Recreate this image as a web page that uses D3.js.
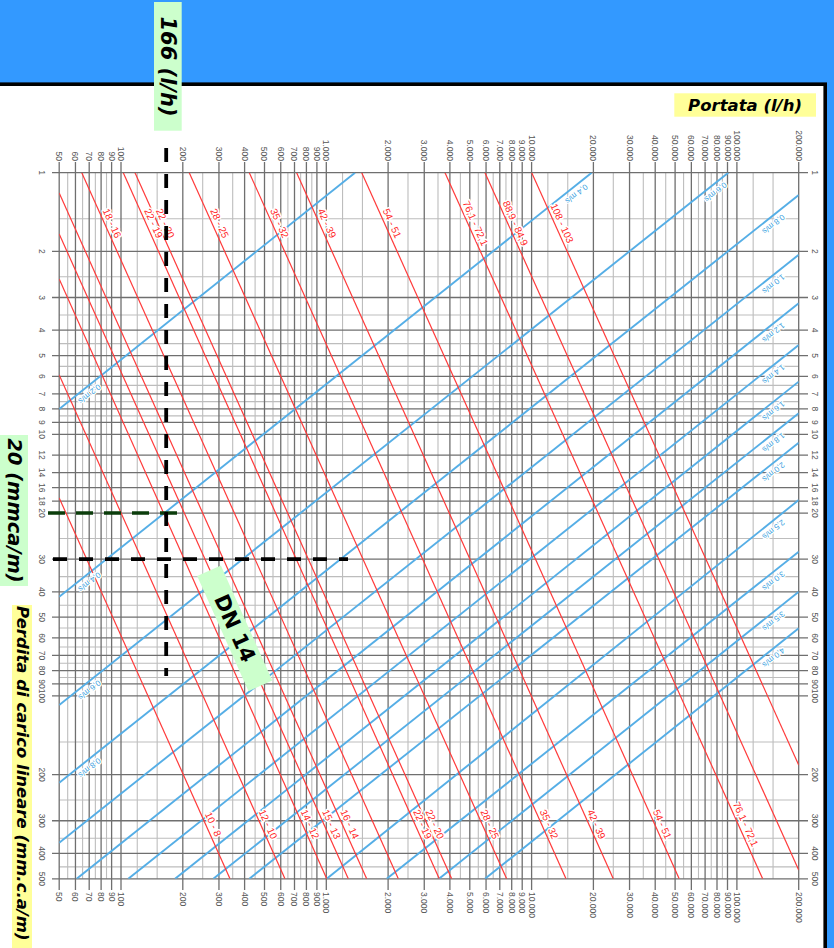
<!DOCTYPE html>
<html><head><meta charset="utf-8">
<script src="https://cdn.jsdelivr.net/npm/d3@7/dist/d3.min.js"></script>
<style>
html,body{margin:0;padding:0;background:#3399ff;overflow:hidden;}
svg{display:block;}
</style></head><body>
<svg id="c" width="834" height="948"></svg>
<script>
// ---------- DATA ----------
// Flow rate (Portata, l/h) – labelled gridlines and half-step gridlines
const flowMajor = [50,60,70,80,90,100,200,300,400,500,600,700,800,900,1000,2000,3000,4000,5000,6000,7000,8000,9000,10000,20000,30000,40000,50000,60000,70000,80000,90000,100000,200000];
const flowMinor = [55,65,75,85,120,150,250,350,450,550,650,750,850,1200,1500,2500,3500,4500,5500,6500,7500,8500,12000,15000,25000,35000,45000,55000,65000,75000,85000,120000,150000];
// Pressure loss (Perdita di carico, mm.c.a/m)
const lossMajor = [1,2,3,4,5,6,7,8,9,10,12,14,16,18,20,30,40,50,60,70,80,90,100,200,300,400,500];
const lossMinor = [1.5,2.5,3.5,4.5,5.5,6.5,7.5,8.5,25,35,45,55,65,75,85,150,250,350,450];

// Pipe lines (red): outer - inner diameter, start/end points
const pipeNames  = ["10 - 8","12 - 10","14 - 12","15 - 13","16 - 14","18 - 16","22 - 19","22 - 20","28 - 25","35 - 32","42 - 39","54 - 51","76,1 - 72,1","88,9 - 84,9","108 - 103"];
const pipeStartQ = [50,50,50,50,50,64.4,102.6,117,215,421.7,717,1488,3786,5929,10012];
const pipeStartJ = [17.5,5.93,2.55,1.715,1.196,1,1,1,1,1,1,1,1,1,1];
const pipeEndQ   = [339.6,629,1005,1280,1573,2243,3551,4081,7560,14710,25000,52360,133500,200000,200000];
const pipeEndJ   = [500,500,500,500,500,500,500,500,500,500,500,500,500,463,183.7];
const pipeTopLabel    = [0,0,0,0,0,1,1,1,1,1,1,1,1,1,1];
const pipeBottomLabel = [1,1,1,1,1,0,1,1,1,1,1,1,1,0,0];

// Velocity lines (blue)
const velNames  = ["0,2 m/s","0,4 m/s","0,6 m/s","0,8 m/s","1,0 m/s","1,2 m/s","1,4 m/s","1,6 m/s","1,8 m/s","2,0 m/s","2,5 m/s","3,0 m/s","3,5 m/s","4,0 m/s"];
const velStartQ = [50,50,50,50,50,60.8,108.5,183.3,281.6,421.7,1004,1969,3539,5930];
const velStartJ = [8.0,41.8,108.3,214.7,364,500,500,500,500,500,500,500,500,500];
const velEndQ   = [1380,19620,90800,200000,200000,200000,200000,200000,200000,200000,200000,200000,200000,200000];
const velEndJ   = [1,1,1,1.217,2.06,3.157,4.556,6.29,8.31,10.77,17.83,28.1,40.0,55.1];
const velLeftLabel  = [1,1,1,1,0,0,0,0,0,0,0,0,0,0];
const velRightLabel = [0,1,1,1,1,1,1,1,1,1,1,1,1,1];

// Worked example
const exampleFlow = 166;   // l/h
const exampleLoss = 20;    // mm.c.a/m
const exampleLoss2 = 30;   // mm.c.a/m

// ---------- DRAW ----------
const svg = d3.select("#c");
svg.append("rect").attr("x",0).attr("y",0).attr("width",834).attr("height",948).attr("fill","#3399ff");
svg.append("rect").attr("x",-10).attr("y",84.2).attr("width",835.2).attr("height",900)
  .attr("fill","#fff").attr("stroke","#000").attr("stroke-width",3.6);

const x = d3.scaleLog().domain([50,200000]).range([59.2,798.7]);
const y = d3.scaleLog().domain([1,500]).range([172.7,878.8]);
const loc = d3.formatLocale({decimal:",",thousands:".",grouping:[3],currency:["",""]});
const fmt = loc.format(",d");
const fmtY = v => String(v);

const grid = svg.append("g");
// minor grid
grid.selectAll(".vmin").data(flowMinor).join("line")
  .attr("x1",d=>x(d)).attr("x2",d=>x(d)).attr("y1",y(1)).attr("y2",y(500))
  .attr("stroke","#bdbdbd").attr("stroke-width",1.1);
grid.selectAll(".hmin").data(lossMinor).join("line")
  .attr("x1",x(50)).attr("x2",x(200000)).attr("y1",d=>y(d)).attr("y2",d=>y(d))
  .attr("stroke","#bdbdbd").attr("stroke-width",1.1);
// major grid
grid.selectAll(".vmaj").data(flowMajor).join("line")
  .attr("x1",d=>x(d)).attr("x2",d=>x(d)).attr("y1",162).attr("y2",890)
  .attr("stroke","#6f6f6f").attr("stroke-width",1.3);
grid.selectAll(".hmaj").data(lossMajor).join("line")
  .attr("x1",52).attr("x2",808).attr("y1",d=>y(d)).attr("y2",d=>y(d))
  .attr("stroke","#6f6f6f").attr("stroke-width",1.3);

// tick labels
const tickFont = "Liberation Sans, Arial, sans-serif";
const tl = svg.append("g").attr("font-family",tickFont).attr("font-size",8.5).attr("fill","#555");
tl.selectAll(".tt").data(flowMajor).join("text")
  .attr("transform",d=>`translate(${x(d)},161) rotate(90)`)
  .attr("text-anchor","end").attr("dominant-baseline","central").text(fmt);
tl.selectAll(".tb").data(flowMajor).join("text")
  .attr("transform",d=>`translate(${x(d)},892) rotate(90)`)
  .attr("text-anchor","start").attr("dominant-baseline","central").text(fmt);
tl.selectAll(".yl").data(lossMajor).join("text")
  .attr("transform",d=>`translate(42,${y(d)}) rotate(90)`)
  .attr("text-anchor","middle").attr("dominant-baseline","central").text(fmtY);
tl.selectAll(".yr").data(lossMajor).join("text")
  .attr("transform",d=>`translate(815,${y(d)}) rotate(90)`)
  .attr("text-anchor","middle").attr("dominant-baseline","central").text(fmtY);

// clip for curves
svg.append("clipPath").attr("id","pc").append("rect")
  .attr("x",x(50)).attr("y",y(1)).attr("width",x(200000)-x(50)).attr("height",y(500)-y(1));

// velocity lines
const vel = velNames.map((n,i)=>({n,i,x1:x(velStartQ[i]),y1:y(velStartJ[i]),x2:x(velEndQ[i]),y2:y(velEndJ[i])}));
const blue = "#55aee6";
svg.append("g").attr("clip-path","url(#pc)").selectAll("line").data(vel).join("line")
  .attr("x1",d=>d.x1).attr("y1",d=>d.y1).attr("x2",d=>d.x2).attr("y2",d=>d.y2)
  .attr("stroke",blue).attr("stroke-width",1.9);

// pipe lines
const pipes = pipeNames.map((n,i)=>({n,i,x1:x(pipeStartQ[i]),y1:y(pipeStartJ[i]),x2:x(pipeEndQ[i]),y2:y(pipeEndJ[i])}));
const red = "#ff3a3a";
svg.append("g").attr("clip-path","url(#pc)").selectAll("line").data(pipes).join("line")
  .attr("x1",d=>d.x1).attr("y1",d=>d.y1).attr("x2",d=>d.x2).attr("y2",d=>d.y2)
  .attr("stroke",red).attr("stroke-width",1.2);

// helpers
function atY(d,yy){const t=(yy-d.y1)/(d.y2-d.y1);return [d.x1+t*(d.x2-d.x1),yy];}
function atX(d,xx){const t=(xx-d.x1)/(d.x2-d.x1);return [xx,d.y1+t*(d.y2-d.y1)];}

// pipe labels
const pl = svg.append("g").attr("font-family",tickFont).attr("font-size",10).attr("fill","#ff2626")
  .attr("stroke","#fff").attr("stroke-width",3).attr("paint-order","stroke").attr("stroke-linejoin","round");
function pipeLabel(d,yy){
  const ang = Math.atan2(d.y2-d.y1,d.x2-d.x1);
  const [px,py] = atY(d,yy);
  const nx = Math.sin(ang), ny = -Math.cos(ang); // right-hand normal
  pl.append("text").attr("transform",`translate(${px+nx*7},${py+ny*7}) rotate(${ang*180/Math.PI})`)
    .attr("text-anchor","middle").attr("dominant-baseline","central").text(d.n);
}
pipes.forEach(d=>{
  if(pipeTopLabel[d.i]) pipeLabel(d,y(1.6));
  if(pipeBottomLabel[d.i]) pipeLabel(d,y(317));
});

// velocity labels
const vl = svg.append("g").attr("font-family",tickFont).attr("font-size",8).attr("fill","#3a9fe0")
  .attr("stroke","#fff").attr("stroke-width",2.5).attr("paint-order","stroke").attr("stroke-linejoin","round");
function velLabel(d,xx){
  const ang = Math.atan2(d.y1-d.y2,d.x1-d.x2); // pointing down-left
  const [px,py] = atX(d,xx);
  const nx = -Math.sin(ang), ny = Math.cos(ang);
  const ox = Math.abs(nx)*7, oy = Math.abs(ny)*7;
  vl.append("text").attr("transform",`translate(${px+ox},${py+oy}) rotate(${ang*180/Math.PI})`)
    .attr("text-anchor","middle").attr("dominant-baseline","central").text(d.n);
}
vel.forEach(d=>{
  if(velLeftLabel[d.i]) velLabel(d,85);
  if(velRightLabel[d.i]){
    const xx = d.i===1 ? 572 : d.i===2 ? 711 : 769;
    velLabel(d,xx);
  }
});

// worked example dashed lines
const ex = x(exampleFlow), ey = y(exampleLoss), ey2 = y(exampleLoss2);
svg.append("line").attr("x1",53).attr("x2",348).attr("y1",ey2).attr("y2",ey2)
  .attr("stroke","#000").attr("stroke-width",3.6).attr("stroke-dasharray","14,12");
svg.append("line").attr("x1",48).attr("x2",185).attr("y1",ey).attr("y2",ey)
  .attr("stroke","#0b3d0b").attr("stroke-width",3.6).attr("stroke-dasharray","17,11");
svg.append("line").attr("x1",ex).attr("x2",ex).attr("y1",148).attr("y2",676)
  .attr("stroke","#000").attr("stroke-width",3.8).attr("stroke-dasharray","14,12");

// annotation boxes
const annFont = "DejaVu Sans, Verdana, sans-serif";
function box(bx,by,bw,bh,fill){svg.append("rect").attr("x",bx).attr("y",by).attr("width",bw).attr("height",bh).attr("fill",fill);}
function vtext(tx,ty,s,size,anchor){
  svg.append("text").attr("transform",`translate(${tx},${ty}) rotate(90)`)
    .attr("text-anchor",anchor||"middle").attr("dominant-baseline","central")
    .attr("font-family",annFont).attr("font-weight","bold").attr("font-style","italic")
    .attr("font-size",size).attr("fill","#000").text(s);
}
box(154,2,27.7,128.7,"#ccffcc");
vtext(167.8,66.5,"166 (l/h)",21);
box(674.3,93.3,141.7,23.4,"#ffff99");
svg.append("text").attr("x",745).attr("y",105.5).attr("text-anchor","middle").attr("dominant-baseline","central")
  .attr("font-family",annFont).attr("font-weight","bold").attr("font-style","italic").attr("font-size",16.5).text("Portata (l/h)");
box(0,435,28,151,"#ccffcc");
vtext(14,510.5,"20 (mmca/m)",19.5);
box(12,605,20,360,"#ffff99");
vtext(22,606,"Perdita di carico lineare (mm.c.a/m)",16.5,"start");

// DN 14 tag along the 14-12 line
const dn = pipes[2];
const dang = Math.atan2(dn.y2-dn.y1,dn.x2-dn.x1)*180/Math.PI;
const dg = svg.append("g").attr("transform",`translate(234.7,628.3) rotate(${dang})`);
dg.append("rect").attr("x",-63).attr("y",-13).attr("width",126).attr("height",26).attr("fill","#ccffcc");
dg.append("text").attr("text-anchor","middle").attr("dominant-baseline","central")
  .attr("font-family",annFont).attr("font-weight","bold").attr("font-size",21).text("DN 14");
</script>
</body></html>
